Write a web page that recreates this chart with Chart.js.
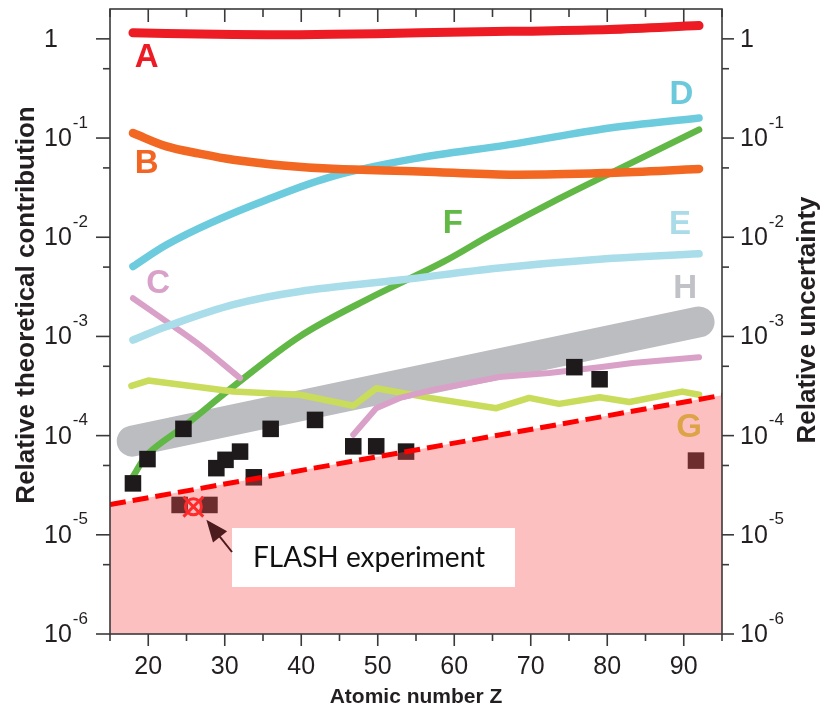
<!DOCTYPE html>
<html>
<head>
<meta charset="utf-8">
<script src="https://cdn.jsdelivr.net/npm/chart.js@4.4.1/dist/chart.umd.min.js"></script>
<style>
  html, body { margin: 0; padding: 0; background: #fff; }
  #wrap { width: 829px; height: 709px; }
</style>
</head>
<body>
<div id="wrap"><canvas id="c" width="829" height="709"></canvas></div>
<script>
// curves (Z, relative value)
const aZ = [18, 26.7, 35.5, 44.1, 55.5, 67.2, 80.3, 92];
const aVal = [1.15, 1.12, 1.10, 1.11, 1.15, 1.19, 1.24, 1.36];

const bZ = [18, 22.4, 26.7, 31.1, 37.6, 44.1, 55.5, 67.2, 80.3, 92];
const bVal = [0.1125, 0.0824, 0.0697, 0.0605, 0.053, 0.049, 0.0461, 0.0427, 0.0445, 0.0488];

const c1Z = [18, 22.4, 26.7, 32];
const c1Val = [2.43e-3, 1.41e-3, 8.2e-4, 3.8e-4];
const c2Z = [46.8, 49.8, 52.9, 57.2, 65.9, 72.4, 79, 83.3, 92];
const c2Val = [1.02e-4, 1.89e-4, 2.4e-4, 2.89e-4, 3.9e-4, 4.27e-4, 4.9e-4, 5.4e-4, 6.17e-4];

const dZ = [18, 22.4, 28.1, 35.5, 44.1, 54.8, 67.2, 80.3, 92];
const dVal = [0.00507, 0.0084, 0.0139, 0.0239, 0.0411, 0.062, 0.0858, 0.1264, 0.1596];

const eZ = [18, 22.4, 31.1, 39.8, 52.9, 65.9, 79, 92];
const eVal = [9.2e-4, 1.26e-3, 2.09e-3, 2.84e-3, 3.7e-3, 4.9e-3, 6.0e-3, 6.8e-3];

const fZ = [18, 20, 24.6, 31.1, 39.8, 48.5, 58.5, 65, 73.7, 81.1, 92];
const fVal = [3.86e-5, 6.6e-5, 1.23e-4, 3.12e-4, 1.0e-3, 2.34e-3, 5.6e-3, 0.0108, 0.0245, 0.047, 0.1216];

const gZ = [17.8, 20, 31.1, 39.8, 46.8, 49.8, 56.8, 65.5, 69.8, 73.7, 79, 82.9, 89.8, 92];
const gVal = [3.17e-4, 3.59e-4, 2.78e-4, 2.58e-4, 2.0e-4, 3.0e-4, 2.4e-4, 1.89e-4, 2.4e-4, 2.09e-4, 2.44e-4, 2.18e-4, 2.78e-4, 2.58e-4];

const hZ = [17.9, 92];
const hVal = [8.8e-5, 1.4e-3];

// measured points (black squares)
const sqZ = [18, 19.9, 24.6, 28.9, 30.1, 32, 33.8, 36, 41.8, 46.8, 49.8, 53.7, 75.7, 79, 91.6, 24.1, 28];
const sqVal = [3.3e-5, 5.8e-5, 1.17e-4, 4.7e-5, 5.7e-5, 6.9e-5, 3.8e-5, 1.17e-4, 1.44e-4, 7.8e-5, 7.8e-5, 6.9e-5, 4.9e-4, 3.7e-4, 5.6e-5, 2.0e-5, 2.0e-5];

// FLASH point and the dashed limit
const flashZ = [25.9];
const flashVal = [1.92e-5];
const limZ = [15, 95];
const limVal = [2.02e-5, 2.55e-4];

// axis ticks
const xTicks = [20, 30, 40, 50, 60, 70, 80, 90];
const yExp = [-6, -5, -4, -3, -2, -1, 0];

// curve letters
const labTxt = ['A', 'B', 'C', 'D', 'E', 'F', 'G', 'H'];
const labZ = [19.8, 19.8, 21.3, 89.7, 89.5, 59.8, 90.7, 90.2];
const labVal = [0.663, 0.0565, 3.47e-3, 0.28, 0.0137, 0.014, 1.22e-4, 3.09e-3];
const labCol = ['#ed1c24', '#f26522', '#d9a0c9', '#6cc9dc', '#a9dce8', '#63b946', '#dca446', '#c1c2c8'];

const FONT = '"Liberation Sans", Arial, Helvetica, sans-serif';

function pts(xs, ys) {
  return xs.map((v, i) => ({ x: v, y: ys[i] }));
}

function curve(xs, ys, color, width, order, smooth) {
  return {
    type: 'line',
    data: pts(xs, ys),
    borderColor: color,
    borderWidth: width,
    borderCapStyle: 'round',
    borderJoinStyle: 'round',
    pointRadius: 0,
    tension: smooth ? 0.35 : 0,
    fill: false,
    order: order
  };
}

const overlay = {
  id: 'overlay',
  afterDraw(chart) {
    const { ctx, chartArea: a, scales } = chart;
    const x = scales.x, y = scales.y;
    const ink = '#231f20';
    ctx.save();

    function seg(x1, y1, x2, y2) {
      ctx.beginPath(); ctx.moveTo(x1, y1); ctx.lineTo(x2, y2); ctx.stroke();
    }

    // frame + ticks
    ctx.strokeStyle = '#3a3a3a';
    ctx.lineWidth = 1.6;
    ctx.strokeRect(a.left, a.top, a.right - a.left, a.bottom - a.top);
    for (let v = 15; v <= 95; v += 5) {
      const px = x.getPixelForValue(v);
      const major = v % 10 === 0;
      seg(px, a.bottom, px, a.bottom + (major ? 12 : 7));
      seg(px, a.top, px, a.top + (major ? 13 : 8));
    }
    yExp.forEach(e => {
      const py = y.getPixelForValue(Math.pow(10, e));
      seg(a.left - 14, py, a.left, py);
      seg(a.right, py, a.right + 12, py);
      if (e < 0) {
        const pm = y.getPixelForValue(5 * Math.pow(10, e));
        seg(a.left - 7, pm, a.left, pm);
        seg(a.right, pm, a.right + 7, pm);
      }
    });

    // y tick labels, both sides
    ctx.fillStyle = ink;
    ctx.textBaseline = 'middle';
    ctx.textAlign = 'left';
    yExp.forEach(e => {
      const py = y.getPixelForValue(Math.pow(10, e));
      [44, 740].forEach(lx => {
        ctx.font = '25px ' + FONT;
        if (e === 0) {
          ctx.fillText('1', lx, py + 1);
        } else {
          ctx.fillText('10', lx, py + 1);
          const w = ctx.measureText('10').width;
          ctx.font = '17px ' + FONT;
          ctx.fillText(String(e), lx + w + 1, py - 15);
        }
      });
    });

    // x tick labels
    ctx.font = '25px ' + FONT;
    ctx.textAlign = 'center';
    xTicks.forEach(v => ctx.fillText(String(v), x.getPixelForValue(v), 667));

    // axis titles
    ctx.font = 'bold 21px ' + FONT;
    ctx.fillText('Atomic number Z', (a.left + a.right) / 2, 697);
    ctx.save();
    ctx.translate(27, 305);
    ctx.rotate(-Math.PI / 2);
    ctx.font = 'bold 26px ' + FONT;
    ctx.fillText('Relative theoretical contribution', 0, 0);
    ctx.restore();
    ctx.save();
    ctx.translate(808, 320);
    ctx.rotate(-Math.PI / 2);
    ctx.font = 'bold 26px ' + FONT;
    ctx.fillText('Relative uncertainty', 0, 0);
    ctx.restore();

    // curve letters
    ctx.font = 'bold 33px ' + FONT;
    labTxt.forEach((t, i) => {
      ctx.fillStyle = labCol[i];
      ctx.fillText(t, x.getPixelForValue(labZ[i]), y.getPixelForValue(labVal[i]) + 1);
    });

    // FLASH callout box
    const bx = 232, by = 528, bw = 283, bh = 59;
    ctx.fillStyle = '#ffffff';
    ctx.fillRect(bx, by, bw, bh);
    ctx.fillStyle = '#111111';
    ctx.textAlign = 'left';
    ctx.font = '28px Lato, "Open Sans", sans-serif';
    ctx.fillText('FLASH experiment', bx + 21, by + 30);

    // arrow from box to the FLASH point
    const fx = x.getPixelForValue(flashZ[0]) + 13;
    const fy = y.getPixelForValue(flashVal[0]) + 13;
    const tx = bx, ty = by + 24;
    const ang = Math.atan2(fy - ty, fx - tx);
    ctx.strokeStyle = '#4b1b1d';
    ctx.fillStyle = '#4b1b1d';
    ctx.lineWidth = 2;
    seg(tx, ty, fx - 18 * Math.cos(ang), fy - 18 * Math.sin(ang));
    ctx.beginPath();
    ctx.moveTo(fx, fy);
    ctx.lineTo(fx - 22 * Math.cos(ang) + 9 * Math.sin(ang), fy - 22 * Math.sin(ang) - 9 * Math.cos(ang));
    ctx.lineTo(fx - 22 * Math.cos(ang) - 9 * Math.sin(ang), fy - 22 * Math.sin(ang) + 9 * Math.cos(ang));
    ctx.closePath();
    ctx.fill();

    ctx.restore();
  }
};

const datasets = [
  curve(hZ, hVal, '#bcbdc1', 31, 11, false),
  curve(fZ, fVal, '#62b846', 6.5, 10, true),
  curve(gZ, gVal, '#c9dc5c', 6.5, 9, false),
  curve(c1Z, c1Val, '#d9a0c8', 6, 8, true),
  curve(c2Z, c2Val, '#d9a0c8', 6, 7, false),
  curve(eZ, eVal, '#a8dde9', 7.5, 6, true),
  curve(dZ, dVal, '#6ccbdc', 7.5, 5, true),
  curve(bZ, bVal, '#f26722', 8.5, 4, true),
  curve(aZ, aVal, '#ed1c24', 9, 3, true),
  {
    type: 'scatter',
    data: pts(sqZ, sqVal),
    pointStyle: 'rect',
    pointRadius: 11.7,
    backgroundColor: '#1e1a1b',
    borderWidth: 0,
    order: 2
  },
  {
    type: 'line',
    data: pts(limZ, limVal),
    borderColor: '#ff0000',
    borderWidth: 5,
    borderDash: [16, 7],
    pointRadius: 0,
    fill: 'start',
    backgroundColor: 'rgba(250, 80, 80, 0.36)',
    order: 1
  },
  {
    type: 'scatter',
    data: pts(flashZ, flashVal),
    pointStyle: 'circle',
    pointRadius: 8,
    borderColor: '#ff2a2a',
    borderWidth: 3,
    backgroundColor: 'rgba(0,0,0,0)',
    order: 0
  },
  {
    type: 'scatter',
    data: pts(flashZ, flashVal),
    pointStyle: 'crossRot',
    pointRadius: 14,
    borderColor: '#ff2a2a',
    borderWidth: 3,
    order: 0
  }
];

new Chart(document.getElementById('c'), {
  type: 'line',
  data: { datasets },
  options: {
    animation: false,
    responsive: false,
    maintainAspectRatio: false,
    layout: { autoPadding: false, padding: { top: 9, left: 0, right: 0, bottom: 0 } },
    scales: {
      x: {
        type: 'linear', min: 15, max: 95,
        grid: { display: false }, border: { display: false },
        ticks: { display: false },
        afterFit: s => { s.height = 75; }
      },
      y: {
        type: 'logarithmic', position: 'left', min: 1e-6, max: 2,
        grid: { display: false }, border: { display: false },
        ticks: { display: false },
        afterFit: s => { s.width = 110; }
      },
      y2: {
        type: 'logarithmic', position: 'right', min: 1e-6, max: 2,
        grid: { display: false }, border: { display: false },
        ticks: { display: false },
        afterFit: s => { s.width = 107; }
      }
    },
    plugins: {
      legend: { display: false },
      tooltip: { enabled: false }
    }
  },
  plugins: [overlay]
});
</script>
</body>
</html>
